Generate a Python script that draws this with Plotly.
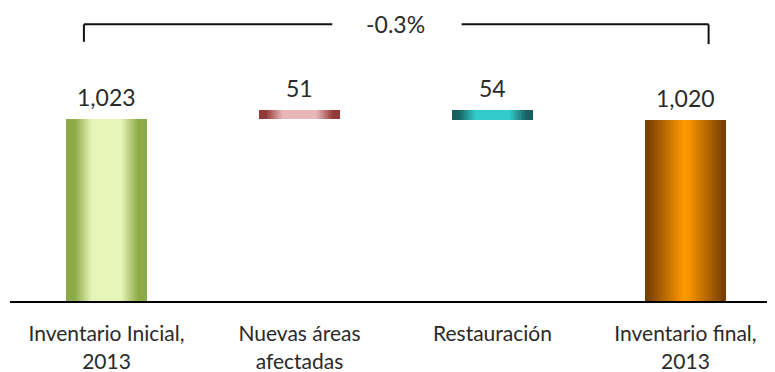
"""Waterfall chart: inventario de áreas afectadas 2013."""

import plotly.graph_objects as go

# data
categories = ["Inventario Inicial,<br>2013", "Nuevas áreas<br>afectadas", "Restauración", "Inventario final,<br>2013"]
changes = [1023, 51, -54]          # start, increase, decrease
final_total = 1020
value_labels = ["1,023", "51", "54", "1,020"]
change_label = "-0.3%"

# edge / centre colours for the cylinder-like gradient
edge_colors = [(140, 170, 72), (148, 56, 56), (24, 96, 96), (120, 64, 0)]
center_colors = [(232, 245, 185), (232, 184, 184), (51, 204, 204), (255, 153, 0)]
# (start, end) of the transition as fraction of the edge->centre distance
ramps = [(0.2, 0.66), (0.15, 0.6), (0.15, 0.6), (0.05, 1.0)]

FONT = "Lato, 'Open Sans', sans-serif"
TEXT_COLOR = "#2a2a2a"
BAR_W = 0.42
N_LAYERS = 20

# waterfall bases / heights
bases, heights = [], []
running = 0
for i, c in enumerate(changes):
    if i == 0:
        bases.append(0)
        heights.append(c)
    elif c >= 0:
        bases.append(running)
        heights.append(c)
    else:
        bases.append(running + c)
        heights.append(-c)
    running += c
bases.append(0)
heights.append(final_total)
tops = [b + h for b, h in zip(bases, heights)]


def mix(a, b, t):
    return "rgb(%d,%d,%d)" % tuple(round(a[j] + (b[j] - a[j]) * t) for j in range(3))


fig = go.Figure()

for k in range(N_LAYERS):
    t = k / (N_LAYERS - 1)
    frac = 1 - k / N_LAYERS
    colors = []
    for i in range(4):
        lo, hi = ramps[i]
        tt = min(1.0, max(0.0, (t - lo) / (hi - lo)))
        colors.append(mix(edge_colors[i], center_colors[i], tt))
    fig.add_trace(go.Bar(
        x=list(range(4)),
        y=heights,
        base=bases,
        width=BAR_W * frac,
        marker=dict(color=colors, line=dict(width=0)),
        hoverinfo="skip",
        showlegend=False,
    ))

for i in range(4):
    fig.add_annotation(
        x=i, y=tops[i], text=value_labels[i], showarrow=False,
        yanchor="bottom", yshift=6,
        font=dict(family=FONT, size=23, color=TEXT_COLOR),
    )

# bracket showing overall change
y_br = 1555
fig.add_shape(type="line", x0=-0.117, x1=-0.117, y0=1457, y1=y_br, line=dict(color="#111111", width=2))
fig.add_shape(type="line", x0=-0.117, x1=1.17, y0=y_br, y1=y_br, line=dict(color="#111111", width=2))
fig.add_shape(type="line", x0=1.84, x1=3.12, y0=y_br, y1=y_br, line=dict(color="#111111", width=2))
fig.add_shape(type="line", x0=3.12, x1=3.12, y0=1444, y1=y_br, line=dict(color="#111111", width=2))
fig.add_annotation(
    x=1.5, y=y_br, text=change_label, showarrow=False,
    font=dict(family=FONT, size=23, color=TEXT_COLOR),
)

# page body has an 8px margin, so the figure is a little smaller than the window
fig.update_layout(
    width=767,
    height=364,
    barmode="overlay",
    bargap=0,
    plot_bgcolor="white",
    paper_bgcolor="white",
    margin=dict(l=2, r=0, t=0, b=71),
    font=dict(family=FONT, size=21, color=TEXT_COLOR),
    xaxis=dict(
        range=[-0.5, 3.464],
        automargin=False,
        tickmode="array",
        tickvals=list(range(4)),
        ticktext=categories,
        showline=True,
        linecolor="#000000",
        linewidth=2,
        showgrid=False,
        zeroline=False,
        ticks="outside",
        ticklen=13,
        tickcolor="rgba(0,0,0,0)",
        tickfont=dict(family=FONT, size=21, color=TEXT_COLOR),
    ),
    yaxis=dict(
        range=[0, 1647],
        visible=False,
        automargin=False,
        showgrid=False,
        zeroline=False,
    ),
)

fig.write_html("out.html")
